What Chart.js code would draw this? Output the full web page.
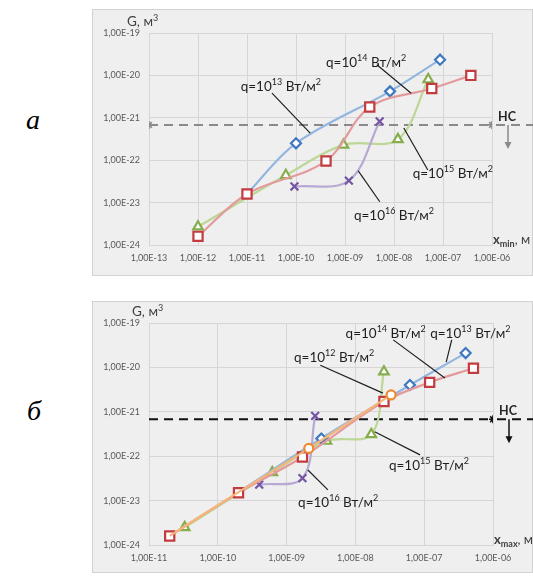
<!DOCTYPE html>
<html>
<head>
<meta charset="utf-8">
<script src="https://cdn.jsdelivr.net/npm/chart.js@4.4.1/dist/chart.umd.min.js"></script>
<style>
  html, body { margin: 0; padding: 0; background: #fff; }
  body { width: 533px; height: 576px; position: relative; overflow: hidden; }
  .panel { position: absolute; left: 92px; width: 441px; background: #efefef; box-shadow: inset 0 0 0 1px #d2d2d2; }
  #boxA { top: 9px; height: 267px; }
  #boxB { top: 301px; height: 272px; }
  .panel canvas { position: absolute; left: 0; top: 0; }
  .lbl { position: absolute; font-family: "Liberation Serif", serif; font-style: italic; font-size: 28px; color: #000; line-height: 1; }
</style>
</head>
<body>
<div class="lbl" style="left:26px;top:106px;">а</div>
<div class="lbl" style="left:27px;top:397px;">б</div>
<div class="panel" id="boxA"><canvas id="chartA" width="441" height="267"></canvas></div>
<div class="panel" id="boxB"><canvas id="chartB" width="441" height="272"></canvas></div>
<script>
// ---- axes (decades) ----
const xTicksA = [1e-13, 1e-12, 1e-11, 1e-10, 1e-9, 1e-8, 1e-7, 1e-6];
const xLabelsA = ['1,00E-13', '1,00E-12', '1,00E-11', '1,00E-10', '1,00E-09', '1,00E-08', '1,00E-07', '1,00E-06'];
const xTicksB = [1e-11, 1e-10, 1e-9, 1e-8, 1e-7, 1e-6];
const xLabelsB = ['1,00E-11', '1,00E-10', '1,00E-09', '1,00E-08', '1,00E-07', '1,00E-06'];
const yTicks = [1e-24, 1e-23, 1e-22, 1e-21, 1e-20, 1e-19];
const yLabels = ['1,00E-24', '1,00E-23', '1,00E-22', '1,00E-21', '1,00E-20', '1,00E-19'];

// ---- panel a: G vs x_min ----
const a13x = [1e-11, 1e-10, 8.3e-9, 8.7e-8];
const a13y = [1.6e-23, 2.5e-22, 4.2e-21, 2.35e-20];
const a14x = [1e-12, 1e-11, 4.1e-10, 3.2e-9, 5.9e-8, 3.7e-7];
const a14y = [1.6e-24, 1.6e-23, 9.6e-23, 1.8e-21, 4.9e-21, 1.0e-20];
const a15x = [1e-12, 6.2e-11, 9.3e-10, 1.2e-8, 5.0e-8];
const a15y = [2.7e-24, 4.4e-23, 2.3e-22, 3.1e-22, 8.0e-21];
const a16x = [9.3e-11, 1.2e-9, 5.1e-9];
const a16y = [2.4e-23, 3.3e-23, 8.2e-22];
const hcXA = [1e-13, 1e-6];

// ---- panel b: G vs x_max ----
const b12x = [2e-11, 2e-10, 2.1e-9, 3.3e-8];
const b12y = [1.6e-24, 1.55e-23, 1.5e-22, 2.4e-21];
const b13x = [2e-10, 3.2e-9, 6.2e-8, 4.0e-7];
const b13y = [1.55e-23, 2.5e-22, 4.0e-21, 2.1e-20];
const b14x = [2e-11, 2e-10, 1.7e-9, 2.6e-8, 1.2e-7, 5.2e-7];
const b14y = [1.6e-24, 1.5e-23, 9.6e-23, 1.7e-21, 4.6e-21, 9.6e-21];
const b15x = [3.3e-11, 6.2e-10, 3.8e-9, 1.7e-8, 2.6e-8];
const b15y = [2.5e-24, 4.3e-23, 2.2e-22, 3.1e-22, 8.0e-21];
const b16x = [4.0e-10, 1.7e-9, 2.6e-9];
const b16y = [2.3e-23, 3.2e-23, 8.1e-22];
const hcXB = [1e-11, 1e-6];

const hcLevel = 6.8e-22; // НС level

// leader labels: exponent of q, text centre and line ends in log10 units
const notesA = [
  { exp: '13', text: [-10.31, -20.25], line: [-10.49, -20.42, -9.71, -21.36] },
  { exp: '14', text: [-8.57, -19.68], line: [-8.35, -19.75, -7.65, -20.42] },
  { exp: '15', text: [-6.80, -22.30], line: [-7.31, -22.23, -7.80, -21.24] },
  { exp: '16', text: [-8.00, -23.29], line: [-8.29, -22.98, -8.73, -22.25] }
];
const notesB = [
  { exp: '14', text: [-7.56, -19.23], line: [-7.45, -19.38, -6.70, -20.24] },
  { exp: '13', text: [-6.33, -19.23], line: [-6.60, -19.38, -6.68, -19.88] },
  { exp: '12', text: [-8.31, -19.77], line: [-8.51, -19.95, -7.60, -20.58] },
  { exp: '15', text: [-6.93, -22.20], line: [-7.06, -21.97, -7.72, -21.45] },
  { exp: '16', text: [-8.25, -23.03], line: [-8.40, -22.76, -8.69, -22.31] }
];

const COL = {
  q12: ['#f5b57a', '#ee8a2e', 'circle', 4.5],
  q13: ['#93b6df', '#3f78c0', 'rectRot', 5],
  q14: ['#e39a9c', '#c23b3f', 'rect', 6.5],
  q15: ['#bcd796', '#86ad4c', 'triangle', 5.5],
  q16: ['#b7a9d4', '#7456a3', 'crossRot', 5.5]
};

function pts(xs, ys) { return xs.map((x, i) => ({ x: x, y: ys[i] })); }

// hidden = number of leading points whose marker sits under another series
function series(xs, ys, key, order, hidden) {
  const c = COL[key];
  return {
    data: pts(xs, ys), order: order,
    borderColor: c[0], borderWidth: 2.2, tension: 0.35, fill: false,
    pointStyle: c[2], pointRadius: xs.map((x, i) => i < (hidden || 0) ? 0 : c[3]),
    pointBorderColor: c[1], pointBackgroundColor: '#ffffff', pointBorderWidth: 2.2
  };
}

function hcSeries(xs, color, radii) {
  return {
    data: xs.map(x => ({ x: x, y: hcLevel })), order: 9,
    borderColor: color, borderWidth: 2, borderDash: [9, 6], tension: 0,
    pointStyle: 'star', pointRadius: radii, pointBorderColor: color, pointBorderWidth: 1.6
  };
}

function rich(ctx, parts, x, y, align) {
  let w = 0;
  parts.forEach(p => { ctx.font = p.font; p.w = ctx.measureText(p.t).width; w += p.w; });
  let cx = align === 'center' ? x - w / 2 : x;
  parts.forEach(p => { ctx.font = p.font; ctx.fillText(p.t, cx, y + (p.dy || 0)); cx += p.w; });
}

const qFont = '13.5px Lato';
const supFont = '9px Lato';

const notesPlugin = {
  id: 'notes',
  afterDatasetsDraw(chart, args, o) {
    const ctx = chart.ctx, xs = chart.scales.x, ys = chart.scales.y, area = chart.chartArea;
    const px = v => xs.getPixelForValue(Math.pow(10, v));
    const py = v => ys.getPixelForValue(Math.pow(10, v));
    ctx.save();
    ctx.textBaseline = 'alphabetic';

    // НС extension, label and arrow
    const hy = ys.getPixelForValue(hcLevel);
    ctx.strokeStyle = o.hcColor; ctx.lineWidth = 2; ctx.setLineDash([9, 6]);
    ctx.beginPath(); ctx.moveTo(area.right + 4, hy); ctx.lineTo(chart.width, hy); ctx.stroke();
    ctx.setLineDash([]);
    ctx.lineWidth = 1.5;
    const ax = area.right + 16;
    ctx.beginPath(); ctx.moveTo(ax, hy); ctx.lineTo(ax, hy + 19); ctx.stroke();
    ctx.fillStyle = o.hcColor;
    ctx.beginPath(); ctx.moveTo(ax - 3.5, hy + 17); ctx.lineTo(ax + 3.5, hy + 17); ctx.lineTo(ax, hy + 24); ctx.closePath(); ctx.fill();
    ctx.fillStyle = '#262626';
    ctx.font = 'bold 12.5px Lato';
    ctx.fillText('НС', area.right + 6, hy - 4);

    // leader lines with q labels
    o.items.forEach(it => {
      ctx.strokeStyle = '#1e1e1e'; ctx.lineWidth = 1.2;
      ctx.beginPath();
      ctx.moveTo(px(it.line[0]), py(it.line[1]));
      ctx.lineTo(px(it.line[2]), py(it.line[3]));
      ctx.stroke();
      ctx.fillStyle = '#1e1e1e';
      rich(ctx, [
        { t: 'q=10', font: qFont },
        { t: it.exp, font: supFont, dy: -6 },
        { t: ' Вт/м', font: qFont },
        { t: '2', font: supFont, dy: -6 }
      ], px(it.text[0]), py(it.text[1]) + 5, 'center');
    });

    // axis titles
    ctx.fillStyle = '#404040';
    rich(ctx, [
      { t: 'G, м', font: '13.5px Lato' },
      { t: '3', font: '9px Lato', dy: -5 }
    ], area.left + o.gDx, area.top - 7, 'left');
    rich(ctx, [
      { t: 'x', font: 'bold 13px Lato' },
      { t: o.sub, font: 'bold 9px Lato', dy: 3 },
      { t: ', м', font: '13px Lato' }
    ], area.right + 1, area.bottom - 1, 'left');
    ctx.restore();
  }
};

function makeChart(id, datasets, xMin, xMax, xTicks, xLabels, pad, xH, notes, extra) {
  return new Chart(document.getElementById(id), {
    type: 'line',
    data: { datasets: datasets },
    plugins: [notesPlugin],
    options: {
      responsive: false, animation: false, events: [],
      layout: { autoPadding: false, padding: pad },
      plugins: {
        legend: { display: false }, tooltip: { enabled: false },
        notes: Object.assign({ items: notes }, extra)
      },
      scales: {
        x: {
          type: 'logarithmic', min: xMin, max: xMax,
          afterBuildTicks: s => { s.ticks = xTicks.map(v => ({ value: v })); },
          afterFit: s => { s.height = xH; },
          grid: { color: '#d6d6d6', drawTicks: false },
          border: { color: '#d6d6d6' },
          ticks: {
            padding: 8, color: '#595959', font: { family: 'Lato', size: 9 },
            maxRotation: 0, autoSkip: false,
            callback: (v, i) => xLabels[i]
          }
        },
        y: {
          type: 'logarithmic', min: 1e-24, max: 1e-19,
          afterBuildTicks: s => { s.ticks = yTicks.map(v => ({ value: v })); },
          afterFit: s => { s.width = 57; },
          grid: { color: '#d6d6d6', drawTicks: false },
          border: { color: '#d6d6d6' },
          ticks: {
            padding: 9, color: '#595959', font: { family: 'Lato', size: 9 },
            autoSkip: false,
            callback: (v, i) => yLabels[i]
          }
        }
      }
    }
  });
}

makeChart('chartA', [
  series(a14x, a14y, 'q14', 0),
  series(a13x, a13y, 'q13', 1, 1),
  series(a16x, a16y, 'q16', 2),
  series(a15x, a15y, 'q15', 3),
  hcSeries(hcXA, '#8a8a8a', [4, 4])
], 1e-13, 1e-6, xTicksA, xLabelsA, { left: 0, top: 24, right: 41, bottom: 0 }, 31, notesA,
  { hcColor: '#8a8a8a', sub: 'min', gDx: -22 });

makeChart('chartB', [
  series(b12x, b12y, 'q12', 0, 2),
  series(b14x, b14y, 'q14', 1),
  series(b13x, b13y, 'q13', 2, 1),
  series(b16x, b16y, 'q16', 3),
  series(b15x, b15y, 'q15', 4),
  hcSeries(hcXB, '#111111', [0, 4])
], 1e-11, 1e-6, xTicksB, xLabelsB, { left: 0, top: 22, right: 40, bottom: 0 }, 28, notesB,
  { hcColor: '#111111', sub: 'max', gDx: -17 });
</script>
</body>
</html>
